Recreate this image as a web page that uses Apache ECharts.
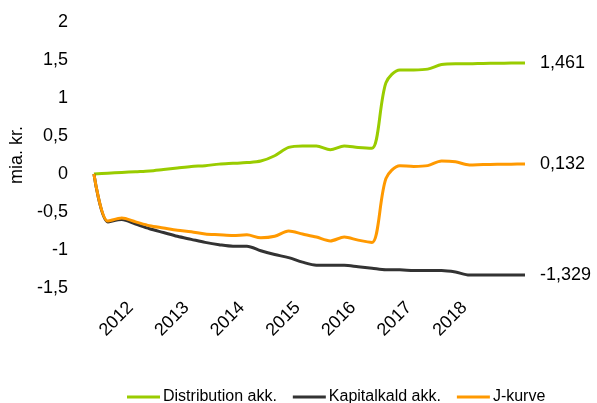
<!DOCTYPE html>
<html>
<head>
<meta charset="utf-8">
<script src="https://cdn.jsdelivr.net/npm/echarts@6/dist/echarts.min.js"></script>
<style>
  html, body { margin: 0; padding: 0; background: #fff; }
  #chart { width: 597px; height: 403px; }
</style>
</head>
<body>
<div id="chart"></div>
<script>
// kvartaler
const quarters = [
  "2011K2", "2011K3", "2011K4", "2012K1", "2012K2", "2012K3", "2012K4",
  "2013K1", "2013K2", "2013K3", "2013K4", "2014K1", "2014K2", "2014K3", "2014K4",
  "2015K1", "2015K2", "2015K3", "2015K4", "2016K1", "2016K2", "2016K3", "2016K4",
  "2017K1", "2017K2", "2017K3", "2017K4", "2018K1", "2018K2", "2018K3", "2018K4",
  "2019K1"
];
const yearLabels = ["2012", "2013", "2014", "2015", "2016", "2017", "2018"];

const distribution = [
  0, 0.01, 0.02, 0.03, 0.04, 0.06, 0.08, 0.10, 0.11, 0.13, 0.14, 0.15, 0.17,
  0.24, 0.35, 0.37, 0.37, 0.32, 0.37, 0.35, 0.34, 1.20, 1.37, 1.37, 1.38,
  1.44, 1.45, 1.45, 1.455, 1.457, 1.459, 1.461
];
const kapitalkald = [
  0, -0.63, -0.60, -0.66, -0.72, -0.77, -0.82, -0.86, -0.90, -0.93, -0.95,
  -0.95, -1.01, -1.06, -1.10, -1.16, -1.20, -1.20, -1.20, -1.22, -1.24, -1.26,
  -1.26, -1.27, -1.27, -1.27, -1.29, -1.33, -1.33, -1.33, -1.33, -1.329
];
const jkurve = [
  0, -0.62, -0.58, -0.63, -0.68, -0.71, -0.74, -0.76, -0.79, -0.80, -0.81,
  -0.80, -0.84, -0.82, -0.75, -0.79, -0.83, -0.88, -0.83, -0.87, -0.90, -0.06,
  0.11, 0.10, 0.11, 0.17, 0.16, 0.12, 0.125, 0.127, 0.129, 0.132
];

const fmt = (v) => String(v).replace(".", ",");

function lineSeries(name, data, color) {
  return {
    name: name,
    type: "line",
    data: data,
    smooth: 0.3,
    showSymbol: false,
    symbol: "none",
    lineStyle: { color: color, width: 3 },
    itemStyle: { color: color },
    endLabel: {
      show: true,
      distance: 15,
      fontSize: 18,
      color: "#000",
      formatter: (p) => p.value.toFixed(3).replace(".", ","),
    },
  };
}

let chart = echarts.init(document.getElementById("chart"));
let option = {
  animation: false,
  textStyle: { fontFamily: "Liberation Sans" },
  grid: { left: 89, right: 72, top: 22, bottom: 115 },
  xAxis: {
    type: "category",
    data: quarters,
    boundaryGap: false,
    axisLine: { show: false },
    axisTick: { show: false },
    axisLabel: {
      rotate: 45,
      margin: 12,
      padding: [0, 7, 0, 0],
      fontSize: 18,
      color: "#000",
      interval: (i, v) => v.endsWith("K1") && yearLabels.includes(v.slice(0, 4)),
      formatter: (v) => v.slice(0, 4),
    },
  },
  yAxis: {
    type: "value",
    min: -1.5,
    max: 2,
    interval: 0.5,
    name: "mia. kr.",
    nameLocation: "middle",
    nameRotate: 90,
    nameGap: 62,
    nameTextStyle: { fontSize: 18, color: "#000" },
    axisLine: { show: false },
    axisTick: { show: false },
    splitLine: { show: false },
    axisLabel: { fontSize: 18, color: "#000", margin: 26, formatter: fmt },
  },
  legend: {
    left: 122,
    top: 384,
    icon: "rect",
    itemWidth: 33,
    itemHeight: 3,
    itemGap: 16,
    textStyle: { fontSize: 16, color: "#000", padding: [0, 0, 0, -2] },
    data: ["Distribution akk.", "Kapitalkald akk.", "J-kurve"],
  },
  series: [
    lineSeries("Distribution akk.", distribution, "#99cc00"),
    lineSeries("Kapitalkald akk.", kapitalkald, "#333333"),
    lineSeries("J-kurve", jkurve, "#ff9900"),
  ],
};
chart.setOption(option);
</script>
</body>
</html>
